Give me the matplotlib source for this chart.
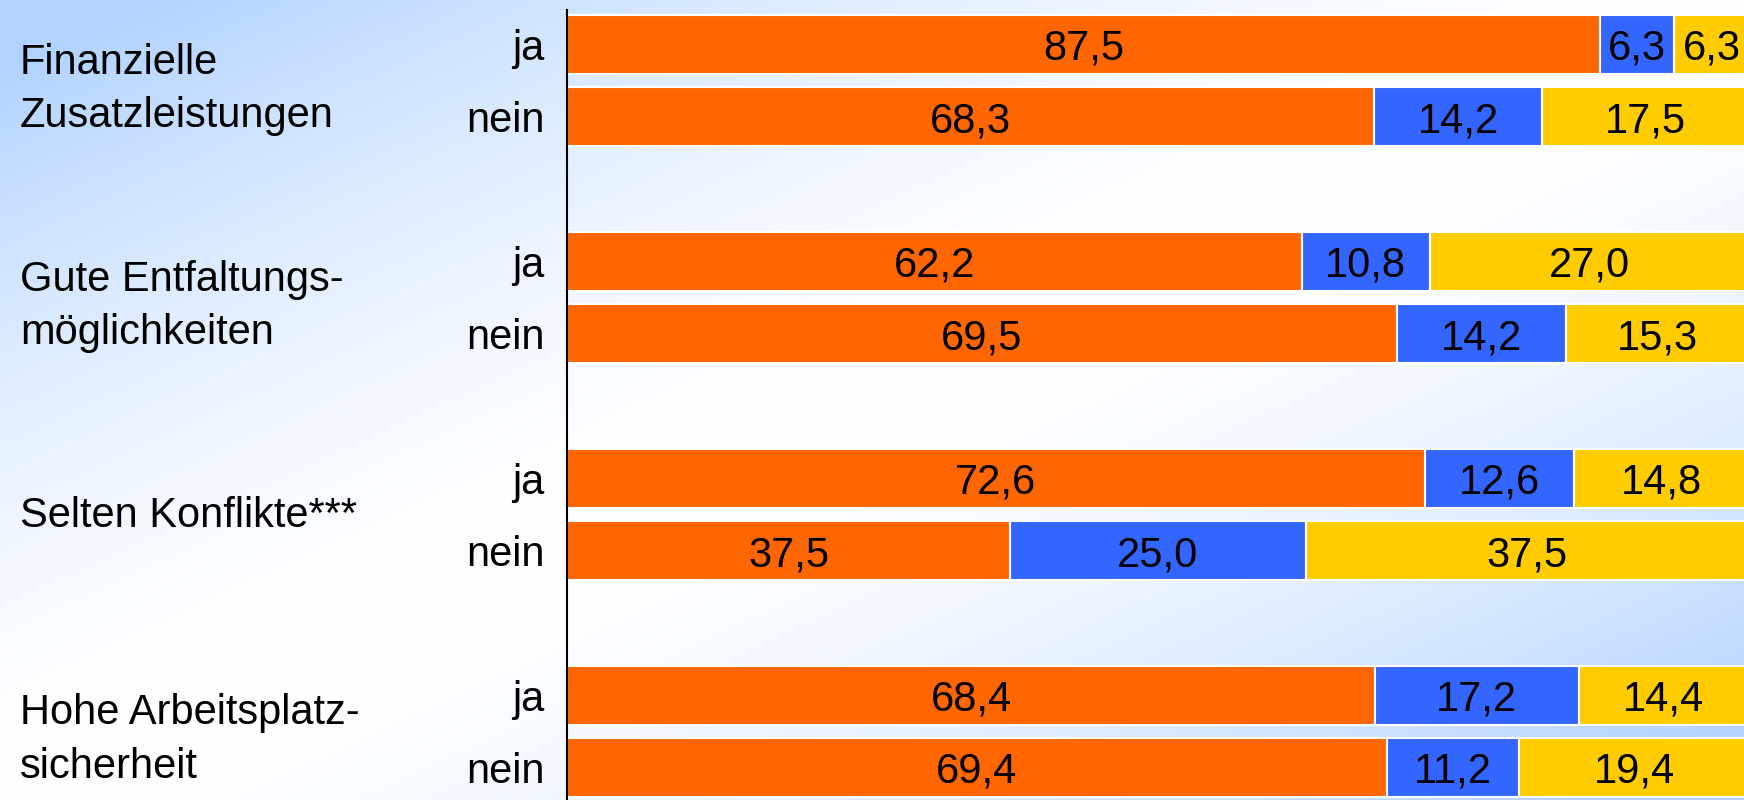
import numpy as np
import matplotlib
matplotlib.use("Agg")
import matplotlib.pyplot as plt
from matplotlib.transforms import blended_transform_factory

# data
categories = ["Finanzielle\nZusatzleistungen", "Gute Entfaltungs-\nmöglichkeiten",
              "Selten Konflikte***", "Hohe Arbeitsplatz-\nsicherheit"]
answers = ["ja", "nein"]
orange_vals = [87.5, 68.3, 62.2, 69.5, 72.6, 37.5, 68.4, 69.4]
blue_vals = [6.3, 14.2, 10.8, 14.2, 12.6, 25.0, 17.2, 11.2]
yellow_vals = [6.3, 17.5, 27.0, 15.3, 14.8, 37.5, 14.4, 19.4]

colors = ["#FF6600", "#3366FF", "#FFCC00"]
plt.rcParams['font.family'] = ['Liberation Sans', 'DejaVu Sans']
FS = 30

W, H = 1744, 800
fig = plt.figure(figsize=(W / 100, H / 100), dpi=100)

# background: light blue in top-left and bottom-right corners, white in the middle
bg = fig.add_axes([0, 0, 1, 1], zorder=-10)
xx, yy = np.meshgrid(np.linspace(0, 1, 400), np.linspace(0, 1, 200))
t = np.abs((xx + yy) - 1.0)
t = np.clip(t * 1.1, 0, 1) ** 1.6
blue = np.array([0.70, 0.83, 1.0])
img = (1 - t)[..., None] * np.ones(3) + t[..., None] * blue
bg.imshow(img, aspect="auto", extent=[0, 1, 1, 0])
bg.set_xlim(0, 1)
bg.set_ylim(1, 0)
bg.axis("off")

ax = fig.add_axes([567 / W, 0, 1 - 567 / W, 1])
ax.patch.set_alpha(0)

ypos = []
for g in range(len(categories)):
    ypos += [3 * g, 3 * g + 1]
ypos = np.array(ypos)

# 100% stacked: bars are scaled to the row total, labels show the read values
raw = np.array([orange_vals, blue_vals, yellow_vals])
share = raw / raw.sum(axis=0) * 100

left = np.zeros(len(ypos))
for vals, widths, col in zip(raw, share, colors):
    ax.barh(ypos, widths, left=left, height=0.82, color=col, edgecolor="white", linewidth=1.5)
    for y, l, v, w in zip(ypos, left, vals, widths):
        ax.text(l + w / 2, y, f"{v:.1f}".replace(".", ","), ha="center", va="center_baseline",
                fontsize=FS, color="black")
    left = left + widths

ax.set_xlim(0, 99.6)
ax.set_ylim(10.45, -0.615)
ax.set_xticks([])
ax.set_yticks(ypos)
ax.set_yticklabels(answers * len(categories), fontsize=FS)
ax.tick_params(axis="y", length=0, pad=16)
for s in ["top", "right", "bottom"]:
    ax.spines[s].set_visible(False)
ax.spines["left"].set_linewidth(1.5)
ax.spines["left"].set_bounds(-0.48, 10.45)

# category names: last line close to the "nein" row
trans = blended_transform_factory(fig.transFigure, ax.transData)
pitch = 0.74
for g, cat in enumerate(categories):
    lines = cat.split("\n")
    if len(lines) == 1:
        ax.text(20 / W, 3 * g + 0.46, lines[0], transform=trans, ha="left",
                va="center_baseline", fontsize=FS)
    else:
        for k, line in enumerate(lines):
            y = 3 * g + 0.93 - pitch * (len(lines) - 1 - k)
            ax.text(20 / W, y, line, transform=trans, ha="left",
                    va="center_baseline", fontsize=FS)

fig.savefig("out.png", dpi=100)
